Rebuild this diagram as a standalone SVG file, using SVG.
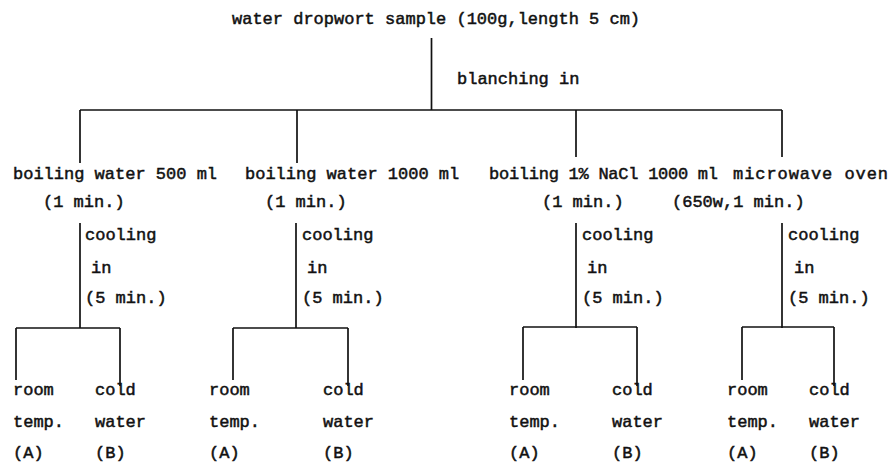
<svg xmlns="http://www.w3.org/2000/svg" width="893" height="464" viewBox="0 0 893 464">
<style>
text{font-family:"Liberation Mono","DejaVu Sans Mono",monospace;font-size:17px;fill:#111;stroke:#111;stroke-width:0.5px}
.c line{stroke:#111;stroke-width:1.7;fill:none}
</style>
<rect width="893" height="464" fill="#fff"/>
<g class="c" id="connectors">
<line x1="431.5" y1="38" x2="431.5" y2="110"/>
<line x1="80" y1="110" x2="782" y2="110"/>
<line x1="80" y1="110" x2="80" y2="163"/>
<line x1="297" y1="110" x2="297" y2="163"/>
<line x1="576" y1="110" x2="576" y2="157"/>
<line x1="782" y1="110" x2="782" y2="157"/>
<line x1="80" y1="223" x2="80" y2="328"/>
<line x1="296" y1="223" x2="296" y2="328"/>
<line x1="576" y1="223" x2="576" y2="328"/>
<line x1="782" y1="223" x2="782" y2="328"/>
<line x1="16" y1="328" x2="120" y2="328"/>
<line x1="16" y1="328" x2="16" y2="380"/>
<line x1="120" y1="328" x2="120" y2="386"/>
<line x1="233" y1="328" x2="348" y2="328"/>
<line x1="233" y1="328" x2="233" y2="380"/>
<line x1="348" y1="328" x2="348" y2="386"/>
<line x1="523" y1="327" x2="637" y2="327"/>
<line x1="523" y1="327" x2="523" y2="380"/>
<line x1="637" y1="327" x2="637" y2="386"/>
<line x1="742" y1="327" x2="834" y2="327"/>
<line x1="742" y1="327" x2="742" y2="380"/>
<line x1="834" y1="327" x2="834" y2="386"/>
</g>
<g id="sample"><text x="232" y="24">water dropwort sample (100g,length 5 cm)</text></g>
<g id="blanching"><text x="457" y="84">blanching in</text></g>
<g id="b1"><text x="13" y="179">boiling water 500 ml</text><text x="43" y="207">(1 min.)</text></g>
<g id="b2"><text x="245" y="179">boiling water 1000 ml</text><text x="265" y="207">(1 min.)</text></g>
<g id="b3"><text x="489" y="179" textLength="229">boiling 1% NaCl 1000 ml</text><text x="542" y="207">(1 min.)</text></g>
<g id="b4"><text x="733" y="179" textLength="155">microwave oven</text><text x="672" y="207">(650w,1 min.)</text></g>
<g id="cool1"><text x="85" y="240">cooling</text><text x="91" y="273">in</text><text x="85" y="303">(5 min.)</text></g>
<g id="cool2"><text x="302" y="240">cooling</text><text x="307" y="273">in</text><text x="302" y="303">(5 min.)</text></g>
<g id="cool3"><text x="582" y="240">cooling</text><text x="587" y="273">in</text><text x="582" y="303">(5 min.)</text></g>
<g id="cool4"><text x="788" y="240">cooling</text><text x="794" y="273">in</text><text x="788" y="303">(5 min.)</text></g>
<g id="a1"><text x="13" y="395">room</text><text x="13" y="427">temp.</text><text x="13" y="458">(A)</text></g>
<g id="bb1"><text x="95" y="395">cold</text><text x="95" y="427">water</text><text x="95" y="458">(B)</text></g>
<g id="a2"><text x="209" y="395">room</text><text x="209" y="427">temp.</text><text x="209" y="458">(A)</text></g>
<g id="bb2"><text x="323" y="395">cold</text><text x="323" y="427">water</text><text x="323" y="458">(B)</text></g>
<g id="a3"><text x="509" y="395">room</text><text x="509" y="427">temp.</text><text x="509" y="458">(A)</text></g>
<g id="bb3"><text x="612" y="395">cold</text><text x="612" y="427">water</text><text x="612" y="458">(B)</text></g>
<g id="a4"><text x="727" y="395">room</text><text x="727" y="427">temp.</text><text x="727" y="458">(A)</text></g>
<g id="bb4"><text x="809" y="395">cold</text><text x="809" y="427">water</text><text x="809" y="458">(B)</text></g>
</svg>
